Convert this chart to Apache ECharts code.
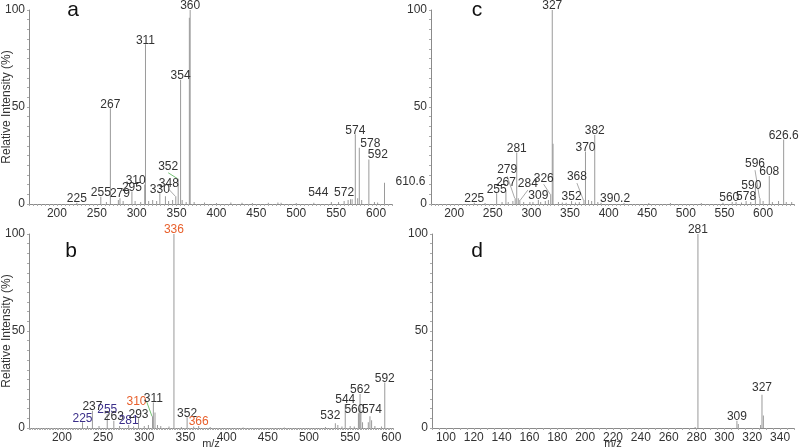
<!DOCTYPE html>
<html>
<head>
<meta charset="utf-8">
<script src="https://cdn.jsdelivr.net/npm/echarts@6/dist/echarts.min.js"></script>
<style>
  html, body { margin: 0; padding: 0; background: #fff; }
  #chart { width: 800px; height: 448px; }
</style>
</head>
<body>
<div id="chart"></div>
<script>
// panel a
var aMz  = [225, 255, 262, 267, 277, 279, 283, 294, 298, 305, 310, 311, 315, 320, 325, 329, 336, 340, 345, 349, 352, 355, 357, 362, 366, 367, 372, 385, 400, 418, 432, 445, 465, 477, 481, 500, 522, 544, 553, 560, 565, 568, 570, 574, 577, 579, 582, 591, 598, 602, 610.6];
var aInt = [0.6, 3.8, 1, 49.3, 2, 3, 1.5, 6.4, 1.5, 1, 10, 82.3, 1.5, 2, 1.5, 5.5, 4, 1.5, 2, 4, 13, 64, 2, 1, 96, 100, 1, 0.8, 0.5, 0.8, 0.6, 0.5, 0.6, 0.8, 0.7, 0.5, 0.6, 1, 1, 1.5, 2, 2.5, 2.5, 35.9, 3, 29, 2, 23, 1, 0.8, 11];
var aLab = ['225', '255', '', '267', '', '279', '', '295', '', '', '310', '311', '', '', '', '330', '', '', '', '348', '352', '354', '', '', '', '360', '', '', '', '', '', '', '', '', '', '', '', '544', '', '', '', '', '572', '574', '', '578', '', '592', '', '', '610.6'];

// panel b
var bMz  = [225, 231, 237, 245, 255, 263, 270, 281, 287, 293, 300, 305, 310, 311, 313, 316, 320, 330, 336, 345, 352, 360, 366, 380, 420, 470, 520, 532, 535, 540, 544, 550, 555, 560, 561, 562, 563, 565, 572, 574, 576, 580, 588, 592];
var bInt = [2.9, 1, 8.9, 1, 7.2, 3.8, 1, 1.5, 0.8, 5, 1, 1.5, 6, 13.2, 8, 1.5, 1, 0.8, 100, 0.5, 5.5, 0.8, 1, 0.5, 0.3, 0.3, 0.5, 2.5, 1.5, 0.8, 12.4, 1, 0.8, 7.6, 10, 17.5, 9, 3, 3, 6, 4, 1, 0.8, 23.5];
var bLab = ['225', '', '237', '', '255', '263', '', '281', '', '293', '', '', '310', '311', '', '', '', '', '336', '', '352', '', '366', '', '', '', '', '532', '', '', '544', '', '', '560', '', '562', '', '', '', '574', '', '', '', '592'];

// panel c
var cMz  = [226, 240, 255, 262, 267, 270, 276, 279, 281, 283, 285, 290, 298, 302, 309, 312, 318, 322, 325, 327, 328, 335, 340, 345, 352, 357, 362, 368, 370, 374, 378, 382, 386, 390.2, 420, 452, 480, 520, 548, 560, 565, 572, 578, 584, 590, 596, 600, 608, 612, 620, 626.6, 630, 637];
var cInt = [0.6, 0.5, 5.5, 1, 7.2, 1, 1.5, 3, 26.5, 3, 2, 1, 1, 1, 2, 1, 1.5, 2, 5, 100, 31, 1, 0.8, 0.7, 1.5, 0.8, 1, 2, 27, 2, 1.5, 35.6, 1, 0.6, 0.5, 0.5, 0.5, 0.5, 0.6, 1, 1, 0.8, 1.5, 1, 9, 3, 1.5, 14.4, 1, 1.5, 33.3, 1, 1];
var cLab = ['225', '', '255', '', '267', '', '', '279', '281', '', '284', '', '', '', '309', '', '', '', '326', '327', '', '', '', '', '352', '', '', '368', '370', '', '', '382', '', '390.2', '', '', '', '', '', '560', '', '', '578', '', '590', '596', '', '608', '', '', '626.6', '', ''];

// panel d
var dMz  = [279, 281, 309, 310, 326, 327, 328];
var dInt = [0.5, 100, 3.8, 2, 1.5, 17.2, 6.4];
var dLab = ['', '281', '309', '', '', '327', ''];

// label nudges [dx, dy] and leader lines, by label text
var labelShift = {
  a: { '310': [-9, 0], '348': [-7, -9], '352': [-10, -8], '544': [-13, -5], '572': [-8, -2], '578': [11, 0], '592': [9, -1], '610.6': [26, 3] },
  b: { '310': [-16, -11], '532': [-5, -3], '560': [-4, 0], '574': [2, -3] },
  c: { '267': [0, -3], '279': [-8, -24], '284': [8, -12], '326': [-7, -12], '368': [-7, -19], '390.2': [14, 0], '560': [-3, 0], '590': [-4, 3], '596': [-5, -30] },
  d: { '327': [0, -3] }
};
var leaderColor = {
  a: { '348': '#aaa', '352': '#74c274' },
  b: { '310': '#74c274' },
  c: { '279': '#aaa', '284': '#aaa', '326': '#aaa', '368': '#aaa', '596': '#aaa' },
  d: {}
};
var labelColor = {
  a: {}, c: {}, d: {},
  b: { '336': '#e8602c', '310': '#e8602c', '366': '#e8602c', '225': '#3b2f8a', '255': '#3b2f8a', '281': '#3b2f8a' }
};

var font = 'Liberation Sans, Arial, sans-serif';
var chart = echarts.init(document.getElementById('chart'), null, { renderer: 'canvas' });

var panels = [
  { key: 'a', mz: aMz, val: aInt, lab: aLab, grid: [29, 10, 363, 194], x: [165, 620, 5, 50], yName: true,  xName: false },
  { key: 'c', mz: cMz, val: cInt, lab: cLab, grid: [431, 10, 363, 194], x: [170, 640, 5, 50], yName: false, xName: false },
  { key: 'b', mz: bMz, val: bInt, lab: bLab, grid: [29, 234, 364, 194], x: [160, 602, 2, 50], yName: true,  xName: true },
  { key: 'd', mz: dMz, val: dInt, lab: dLab, grid: [432, 234, 362, 194], x: [90, 350, 5, 20], yName: false, xName: true }
];

var grids = [], xAxes = [], yAxes = [], series = [], graphics = [];

panels.forEach(function (p, i) {
  grids.push({ left: p.grid[0], top: p.grid[1], width: p.grid[2], height: p.grid[3], containLabel: false, outerBoundsMode: 'none' });

  xAxes.push({
    gridIndex: i, type: 'value', min: p.x[0], max: p.x[1], interval: p.x[2],
    name: p.xName ? 'm/z' : '', nameLocation: 'middle', nameGap: 10, nameMoveOverlap: false,
    nameTextStyle: { color: '#333', fontSize: 11, fontFamily: font },
    axisLine: { lineStyle: { color: '#8a8a8a', width: 1 } },
    axisTick: { length: 2, lineStyle: { color: '#aaa' } },
    splitLine: { show: false },
    axisLabel: {
      margin: 4, color: '#333', fontSize: 12, fontFamily: font,
      formatter: function (v) { return Math.round(v) % p.x[3] === 0 ? String(Math.round(v)) : ''; }
    }
  });

  yAxes.push({
    gridIndex: i, type: 'value', min: 0, max: 100, interval: 5,
    name: p.yName ? 'Relative Intensity (%)' : '', nameLocation: 'middle', nameGap: 16, nameMoveOverlap: false,
    nameTextStyle: { color: '#333', fontSize: 12, fontFamily: font },
    axisLine: { show: true, lineStyle: { color: '#8a8a8a', width: 1 } },
    axisTick: { show: true, length: 2, lineStyle: { color: '#aaa' } },
    splitLine: { show: false },
    axisLabel: {
      margin: 4, color: '#333', fontSize: 12, fontFamily: font,
      formatter: function (v) { return v % 50 === 0 ? String(v) : ''; }
    }
  });

  var shifts = labelShift[p.key], leaders = leaderColor[p.key], colors = labelColor[p.key];
  var data = p.mz.map(function (m, j) {
    var t = p.lab[j];
    var item = { value: [m, p.val[j]] };
    if (t) {
      item.label = { show: true, formatter: t, color: colors[t] || '#333' };
      if (leaders[t]) item.labelLine = { show: true, lineStyle: { color: leaders[t], width: 1 } };
    }
    return item;
  });

  series.push({
    type: 'bar', xAxisIndex: i, yAxisIndex: i, barWidth: 1, silent: true,
    itemStyle: { color: '#9a9a9a' },
    label: { show: false, position: 'top', distance: -2, lineHeight: 12, fontSize: 12, fontFamily: font, color: '#333' },
    labelLine: { show: false },
    labelLayout: function (params) {
      var s = shifts[p.lab[params.dataIndex]];
      return s ? { dx: s[0], dy: s[1] } : {};
    },
    data: data
  });
});

var letters = [['a', 73, 10], ['c', 477, 10], ['b', 71, 251], ['d', 477, 251]];
letters.forEach(function (l) {
  graphics.push({
    type: 'text', x: l[1], y: l[2], silent: true,
    style: { text: l[0], font: '21px ' + font, fill: '#111', align: 'center', verticalAlign: 'middle' }
  });
});

chart.setOption({
  animation: false,
  grid: grids,
  xAxis: xAxes,
  yAxis: yAxes,
  series: series,
  graphic: graphics
});
</script>
</body>
</html>
